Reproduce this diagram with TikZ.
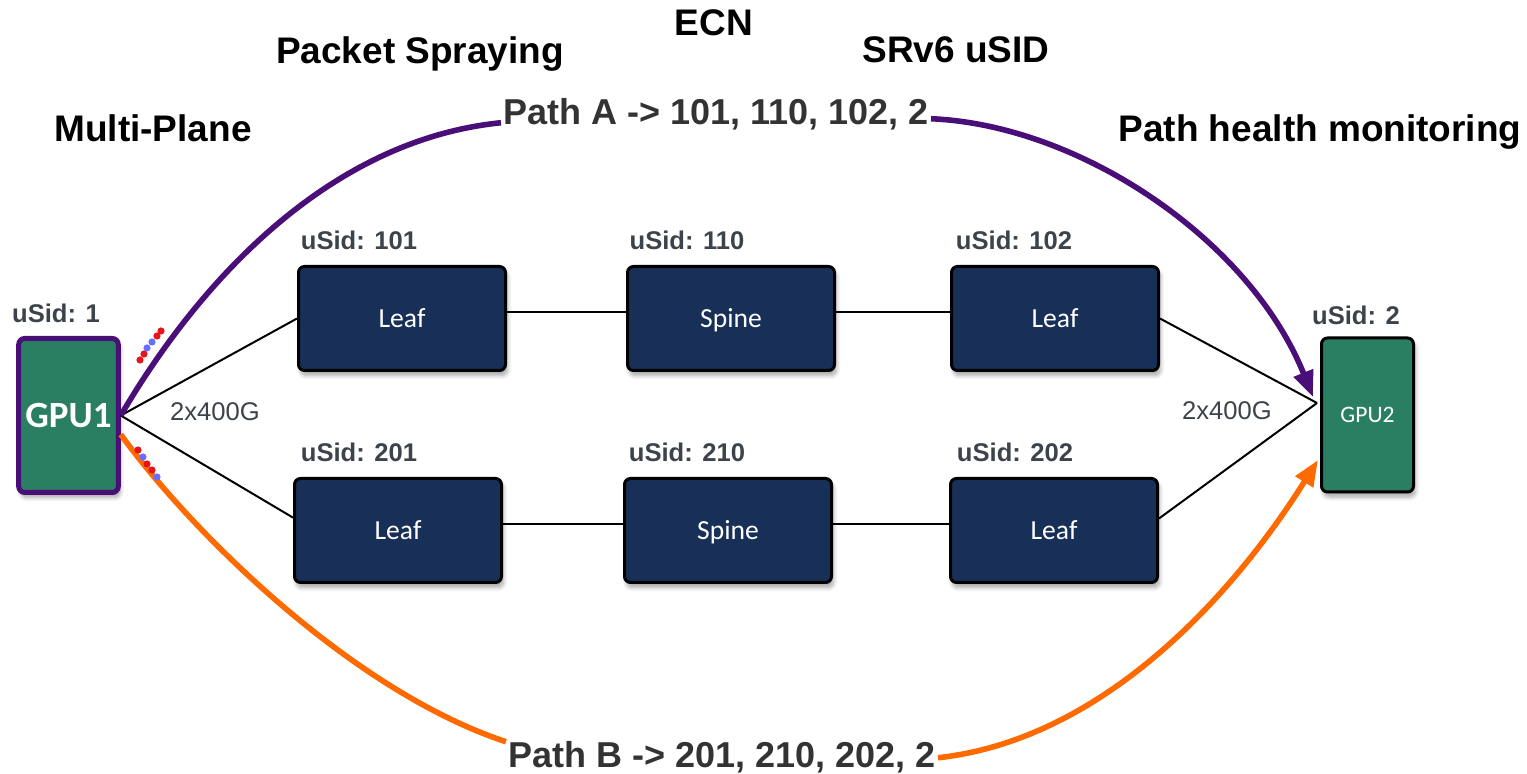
\documentclass[tikz,border=0pt]{standalone}
\usepackage{fontspec}
\setmainfont{Liberation Sans}
\newfontfamily\boxfont{Carlito}
\usetikzlibrary{arrows.meta,shadows.blur}

\definecolor{gpugreen}{HTML}{2A7F62}
\definecolor{navy}{HTML}{183058}
\definecolor{pathpurple}{HTML}{4A0E78}
\definecolor{pathorange}{HTML}{FF6A00}
\definecolor{sidgray}{HTML}{3D434B}
\definecolor{pathgray}{HTML}{333333}
\definecolor{dotred}{HTML}{E8141C}
\definecolor{dotblue}{HTML}{6A6CFF}

\tikzset{
  boxshadow/.style={blur shadow={shadow xshift=1pt, shadow yshift=-2.5pt,
      shadow blur steps=6, shadow blur extra rounding=1pt, shadow opacity=35}},
  switchbox/.style={draw=black, line width=1.5pt, fill=navy, rounded corners=3pt,
      minimum width=103.5pt, minimum height=52pt, text=white,
      text height=10.7pt, text depth=2pt,
      font=\boxfont\fontsize{13.8}{16}\selectfont, boxshadow},
  gpubox/.style={fill=gpugreen, rounded corners=3pt, text=white,
      minimum width=46pt, minimum height=77pt, boxshadow},
  sidlabel/.style={anchor=base, inner sep=0pt, text=sidgray,
      font=\bfseries\fontsize{12.8}{15}\selectfont},
  featlabel/.style={anchor=base, inner sep=0pt, text=black,
      font=\bfseries\fontsize{18.5}{22}\selectfont},
  pathlabel/.style={anchor=base, inner sep=1pt, text=pathgray,
      font=\bfseries\fontsize{18}{22}\selectfont},
  ratelabel/.style={anchor=base, inner sep=0pt, text=sidgray,
      font=\fontsize{12.8}{15}\selectfont},
  link/.style={draw=black, line width=1pt},
  pathA/.style={draw=pathpurple, line width=2.8pt},
  pathB/.style={draw=pathorange, line width=2.8pt},
  tip/.style={-{Triangle[length=13pt, width=10pt]}},
  pkt/.style={circle, inner sep=0pt, minimum size=3.6pt},
}

\begin{document}
\begin{tikzpicture}[x=0.5pt, y=-0.5pt]
\useasboundingbox (0,0) rectangle (1527,774);

% feature headings
\node[featlabel] (ecn)     at (714,36)  {ECN};
\node[featlabel] (spray)   at (420,64)  {Packet Spraying};
\node[featlabel] (srv6)    at (956,63)  {SRv6 uSID};
\node[featlabel] (plane)   at (153,142) {Multi-Plane};
\node[featlabel] (health)  at (1320,142) {Path health monitoring};

% end hosts
\node[gpubox, draw=pathpurple, line width=2.5pt,
      font=\boxfont\bfseries\fontsize{18.5}{22}\selectfont] (gpu1) at (68.5,415.5) {GPU1};
\node[gpubox, draw=black, line width=1.5pt,
      font=\boxfont\fontsize{11.8}{14}\selectfont] (gpu2) at (1367.5,415) {GPU2};
\node[sidlabel] (sid1) at (56,323)  {uSid: 1};
\node[sidlabel] (sid2) at (1356,325) {uSid: 2};

% plane 1
\node[switchbox] (l101) at (402,318.5)  {Leaf};
\node[switchbox] (s110) at (731,318.5)  {Spine};
\node[switchbox] (l102) at (1055,318.5) {Leaf};
\node[sidlabel] at (359,250)  {uSid: 101};
\node[sidlabel] at (687,250)  {uSid: 110};
\node[sidlabel] at (1014,250) {uSid: 102};

% plane 2
\node[switchbox] (l201) at (398,530.5)  {Leaf};
\node[switchbox] (s210) at (728,530.5)  {Spine};
\node[switchbox] (l202) at (1054,530.5) {Leaf};
\node[sidlabel] at (359,462)  {uSid: 201};
\node[sidlabel] at (687,462)  {uSid: 210};
\node[sidlabel] at (1015,462) {uSid: 202};

% link speeds
\node[ratelabel] (rate1) at (215,421)  {2x400G};
\node[ratelabel] (rate2) at (1227,420) {2x400G};

% physical links
\draw[link] (gpu1.east) -- (l101.west);
\draw[link] (gpu1.east) -- (l201.173);
\draw[link] ([yshift=3pt]l101.east) -- ([yshift=3pt]s110.west);
\draw[link] ([yshift=3pt]s110.east) -- ([yshift=3pt]l102.west);
\draw[link] ([yshift=3pt]l201.east) -- ([yshift=3pt]s210.west);
\draw[link] ([yshift=3pt]s210.east) -- ([yshift=3pt]l202.west);
\coordinate (gpu2in) at ([xshift=-1.5pt, yshift=6pt]gpu2.west);
\draw[link] (l102.east) -- (gpu2in);
\draw[link] ([yshift=6pt]l202.east) -- (gpu2in);

% segment-routed paths
\node[pathlabel] (labA) at (716,125) {Path A -> 101, 110, 102, 2};
\node[pathlabel] (labB) at (722,768) {Path B -> 201, 210, 202, 2};

\draw[pathA] (gpu1.east) .. controls (200,280) and (330,140) .. ([yshift=-4pt]labA.west);
\draw[pathA, tip] ([yshift=-2pt]labA.east) .. controls (1080,125) and (1250,240)
      .. ([xshift=-3.5pt, yshift=9pt]gpu2.west);

\draw[pathB] ([yshift=-9.5pt]gpu1.east) .. controls (190,530) and (350,690) .. ([yshift=8pt]labB.west);
\draw[pathB, tip] (labB.east) .. controls (1100,740) and (1230,600)
      .. ([xshift=-1pt, yshift=-22.5pt]gpu2.west);

% sprayed packets on plane 1
\node[pkt, fill=dotred]  (a1) at (140,360) {};
\node[pkt, fill=dotred]  (a2) at (144,354) {};
\node[pkt, fill=dotblue] (a3) at (147,348) {};
\node[pkt, fill=dotblue] (a4) at (152,342) {};
\node[pkt, fill=dotred]  (a5) at (157,336) {};
\node[pkt, fill=dotred]  (a6) at (161,331) {};
% sprayed packets on plane 2
\node[pkt, fill=dotred]  (b1) at (138,450) {};
\node[pkt, fill=dotblue] (b2) at (143,457) {};
\node[pkt, fill=dotred]  (b3) at (147,464) {};
\node[pkt, fill=dotred]  (b4) at (152,470) {};
\node[pkt, fill=dotblue] (b5) at (157,477) {};
\end{tikzpicture}
\end{document}
